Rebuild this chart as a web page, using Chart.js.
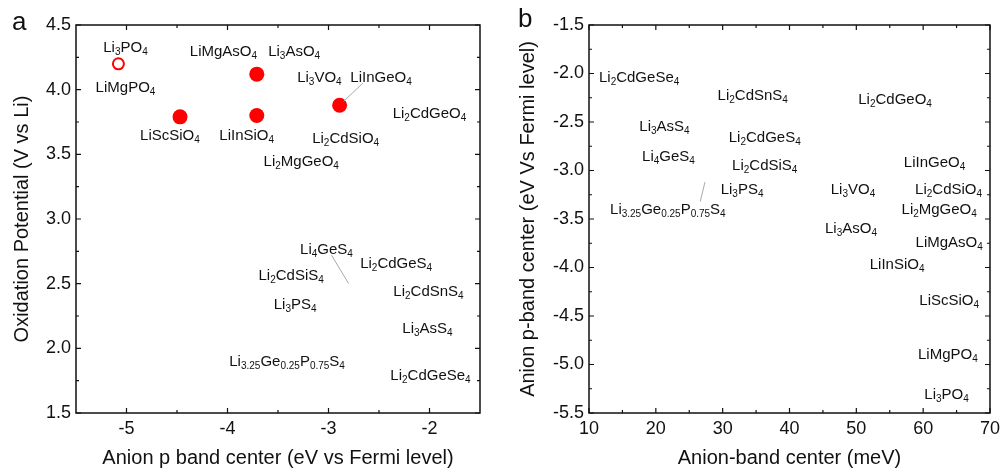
<!DOCTYPE html>
<html>
<head>
<meta charset="utf-8">
<script src="https://cdn.jsdelivr.net/npm/chart.js@4.4.1/dist/chart.umd.min.js"></script>
<style>
  html, body { margin: 0; padding: 0; background: #fff; }
  #wrap { position: relative; width: 1005px; height: 471px; }
  .panel { position: absolute; top: 0; height: 471px; }
  #pa { left: 0; width: 500px; }
  #pb { left: 500px; width: 505px; }
</style>
</head>
<body>
<div id="wrap">
  <div class="panel" id="pa"><canvas id="chartA" width="500" height="471"></canvas></div>
  <div class="panel" id="pb"><canvas id="chartB" width="505" height="471"></canvas></div>
</div>
<script>
// panel a: oxidation potential against anion p band center
const aNames = ['Li3PO4', 'LiMgPO4', 'LiMgAsO4', 'Li3AsO4', 'Li3VO4', 'LiInGeO4', 'Li2CdGeO4',
    'LiScSiO4', 'LiInSiO4', 'Li2CdSiO4', 'Li2MgGeO4', 'Li4GeS4', 'Li2CdGeS4', 'Li2CdSiS4',
    'Li2CdSnS4', 'Li3PS4', 'Li3AsS4', 'Li3.25Ge0.25P0.75S4', 'Li2CdGeSe4'];
const aBand = [-5.01, -5.01, -4.04, -3.34, -3.09, -2.48, -2.00, -4.57, -3.81, -2.83, -3.27,
    -3.02, -2.33, -3.37, -2.01, -3.33, -2.02, -3.41, -1.99];
const aPotential = [4.33, 4.02, 4.30, 4.30, 4.10, 4.10, 3.82, 3.65, 3.65, 3.63, 3.45,
    2.77, 2.66, 2.57, 2.44, 2.34, 2.16, 1.90, 1.79];

// measured points (filled) and reference point (open)
const calcBand = [-4.47, -3.71, -3.71, -2.89];
const calcPotential = [3.79, 3.80, 4.12, 3.88];
const refBand = [-5.08];
const refPotential = [4.20];

// leader lines in panel a
const aLeader1X = [-2.66, -2.85];
const aLeader1Y = [4.05, 3.91];
const aLeader2X = [-2.97, -2.80];
const aLeader2Y = [2.72, 2.50];

// panel b: anion p-band center against anion-band center
const bNames = ['Li2CdGeSe4', 'Li2CdSnS4', 'Li2CdGeO4', 'Li3AsS4', 'Li2CdGeS4', 'Li4GeS4',
    'LiInGeO4', 'Li2CdSiS4', 'Li3PS4', 'Li3VO4', 'Li2CdSiO4', 'Li3.25Ge0.25P0.75S4',
    'Li2MgGeO4', 'Li3AsO4', 'LiMgAsO4', 'LiInSiO4', 'LiScSiO4', 'LiMgPO4', 'Li3PO4'];
const bAnionBand = [17.5, 34.5, 55.8, 21.3, 36.3, 21.9, 61.7, 36.3, 32.9, 49.5, 63.8, 21.8,
    62.4, 49.2, 63.9, 56.1, 63.9, 63.7, 63.5];
const bPBand = [-2.04, -2.22, -2.26, -2.54, -2.65, -2.85, -2.91, -2.94, -3.19, -3.19, -3.19,
    -3.40, -3.40, -3.59, -3.74, -3.96, -4.34, -4.89, -5.30];
const bLeaderX = [27.35, 26.65];
const bLeaderY = [-3.12, -3.32];

// tick values
const aXTicks = [-5, -4, -3, -2];
const aYTicks = [1.5, 2.0, 2.5, 3.0, 3.5, 4.0, 4.5];
const bXTicks = [10, 20, 30, 40, 50, 60, 70];
const bYTicks = [-5.5, -5.0, -4.5, -4.0, -3.5, -3.0, -2.5, -2.0, -1.5];

const FONT = '"Liberation Sans", Arial, sans-serif';
const INK = '#111';

function points(xs, ys) {
    return xs.map((x, i) => ({ x: x, y: ys[i] }));
}

// chemical formula with numbers set as subscripts, centred on (cx, cy)
function drawFormula(ctx, text, cx, cy) {
    const parts = text.split(/(\d+(?:\.\d+)?)/).filter(s => s.length);
    const mainFont = '15px ' + FONT;
    const subFont = '10px ' + FONT;
    let w = 0;
    parts.forEach(p => {
        ctx.font = /^\d/.test(p) ? subFont : mainFont;
        w += ctx.measureText(p).width;
    });
    let x = cx - w / 2;
    const base = cy + 5;
    parts.forEach(p => {
        const sub = /^\d/.test(p);
        ctx.font = sub ? subFont : mainFont;
        ctx.fillText(p, x, sub ? base + 3 : base);
        x += ctx.measureText(p).width;
    });
}

const formulaLabels = {
    id: 'formulaLabels',
    afterDatasetsDraw(chart) {
        const ctx = chart.ctx;
        ctx.save();
        ctx.fillStyle = INK;
        ctx.textAlign = 'left';
        ctx.textBaseline = 'alphabetic';
        chart.data.datasets.forEach((ds, i) => {
            if (!ds.formulas) return;
            chart.getDatasetMeta(i).data.forEach((el, j) => {
                drawFormula(ctx, ds.formulas[j], el.x, el.y);
            });
        });
        ctx.restore();
    }
};

// box frame with inward major and minor ticks on all four sides
const frameTicks = {
    id: 'frameTicks',
    afterDraw(chart, args, opts) {
        const { ctx, chartArea } = chart;
        const { left, right, top, bottom } = chartArea;
        const xs = chart.scales.x;
        const ys = chart.scales.y;
        ctx.save();
        ctx.strokeStyle = INK;
        ctx.lineWidth = 1.5;
        ctx.strokeRect(left, top, right - left, bottom - top);
        ctx.lineWidth = 1.2;

        function marks(scale) {
            const vals = scale.ticks.map(t => t.value);
            const out = [];
            vals.forEach((v, i) => {
                out.push({ p: scale.getPixelForValue(v), len: 5 });
                if (i < vals.length - 1) {
                    out.push({ p: scale.getPixelForValue((v + vals[i + 1]) / 2), len: 3 });
                }
            });
            return out;
        }
        ctx.beginPath();
        marks(xs).forEach(m => {
            ctx.moveTo(m.p, bottom); ctx.lineTo(m.p, bottom - m.len);
            ctx.moveTo(m.p, top); ctx.lineTo(m.p, top + m.len);
        });
        marks(ys).forEach(m => {
            ctx.moveTo(left, m.p); ctx.lineTo(left + m.len, m.p);
            ctx.moveTo(right, m.p); ctx.lineTo(right - m.len, m.p);
        });
        ctx.stroke();

        // panel letter
        ctx.fillStyle = INK;
        ctx.font = '26px ' + FONT;
        ctx.textAlign = 'left';
        ctx.textBaseline = 'alphabetic';
        ctx.fillText(opts.letter, opts.lx, opts.ly);
        ctx.restore();
    }
};

function axis(min, max, tickVals, title, titlePad, extra) {
    return Object.assign({
        type: 'linear',
        min: min,
        max: max,
        grid: { display: false, drawTicks: false },
        border: { display: false },
        afterBuildTicks: function(scale) {
            scale.ticks = tickVals.map(v => ({ value: v }));
        },
        ticks: {
            color: INK,
            font: { family: FONT, size: 18 },
            padding: 5
        },
        title: {
            display: true,
            text: title,
            color: INK,
            padding: titlePad,
            font: { family: FONT, size: 20 }
        }
    }, extra);
}

// Panel a
new Chart(document.getElementById('chartA'), {
    type: 'scatter',
    data: {
        datasets: [
            {
                data: points(aLeader1X, aLeader1Y),
                showLine: true, borderColor: '#a8a8a8', borderWidth: 1, pointRadius: 0
            },
            {
                data: points(aLeader2X, aLeader2Y),
                showLine: true, borderColor: '#a8a8a8', borderWidth: 1, pointRadius: 0
            },
            {
                data: points(calcBand, calcPotential),
                pointRadius: 7.5, pointBorderWidth: 0,
                backgroundColor: '#ff0000', borderColor: '#ff0000'
            },
            {
                data: points(refBand, refPotential),
                pointRadius: 5.5, pointBorderWidth: 2,
                backgroundColor: '#ffffff', borderColor: '#ff0000'
            },
            {
                data: points(aBand, aPotential),
                formulas: aNames,
                pointRadius: 0
            }
        ]
    },
    options: {
        responsive: false,
        animation: false,
        layout: { padding: { left: 0, top: 25, right: 20, bottom: 0 } },
        plugins: {
            legend: { display: false },
            tooltip: { enabled: false },
            frameTicks: { letter: 'a', lx: 12, ly: 30 }
        },
        scales: {
            x: axis(-5.5, -1.5, aXTicks, 'Anion p band center (eV vs Fermi level)',
                { top: 0, bottom: 1 }, {
                afterFit: function(scale) { scale.height = 58; }
            }),
            y: axis(1.5, 4.5, aYTicks, 'Oxidation Potential (V vs Li)',
                { top: 10, bottom: 0 }, {
                afterFit: function(scale) { scale.width = 76; }
            })
        }
    },
    plugins: [formulaLabels, frameTicks]
});

// Panel b
new Chart(document.getElementById('chartB'), {
    type: 'scatter',
    data: {
        datasets: [
            {
                data: points(bLeaderX, bLeaderY),
                showLine: true, borderColor: '#a8a8a8', borderWidth: 1, pointRadius: 0
            },
            {
                data: points(bAnionBand, bPBand),
                formulas: bNames,
                pointRadius: 0
            }
        ]
    },
    options: {
        responsive: false,
        animation: false,
        layout: { padding: { left: 0, top: 25, right: 13, bottom: 0 } },
        plugins: {
            legend: { display: false },
            tooltip: { enabled: false },
            frameTicks: { letter: 'b', lx: 18, ly: 27 }
        },
        scales: {
            x: axis(10, 70, bXTicks, 'Anion-band center (meV)',
                { top: 0, bottom: 1 }, {
                afterFit: function(scale) { scale.height = 58; }
            }),
            y: axis(-5.5, -1.5, bYTicks, 'Anion p-band center (eV Vs Fermi level)',
                { top: 16, bottom: 0 }, {
                afterFit: function(scale) { scale.width = 89; }
            })
        }
    },
    plugins: [formulaLabels, frameTicks]
});
</script>
</body>
</html>
